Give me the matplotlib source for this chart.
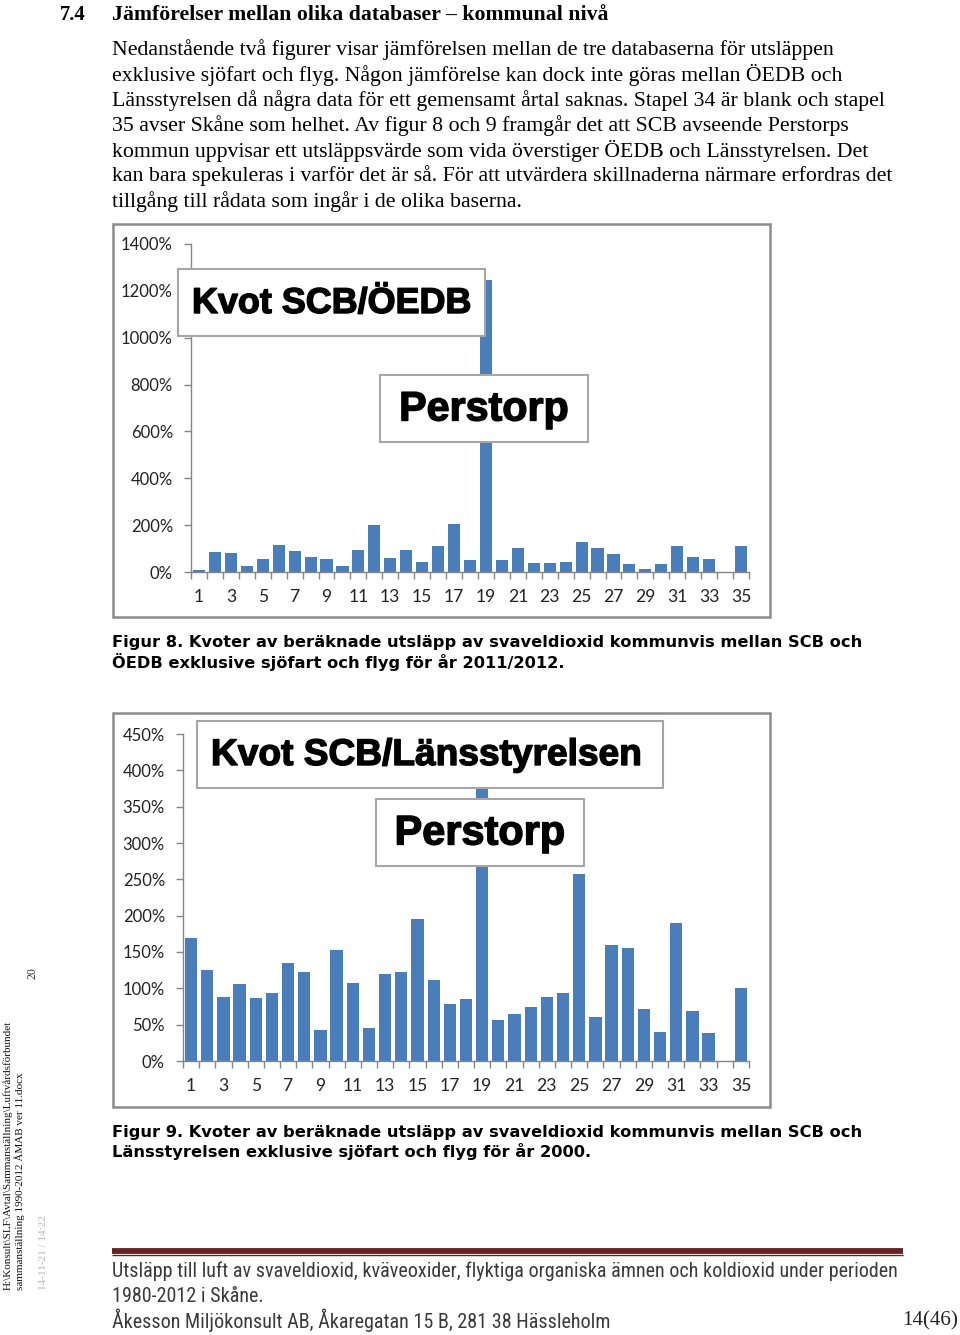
import matplotlib
matplotlib.use("Agg")
import matplotlib.pyplot as plt
from matplotlib.patches import Rectangle
from matplotlib.lines import Line2D
import matplotlib.patheffects as pe
import numpy as np

# ---------------- data ----------------
categories = list(range(1, 36))
tick_labels = [str(c) for c in categories if c % 2 == 1]
kvot_oedb = [7, 86, 79, 24, 57, 114, 91, 64, 57, 27, 94, 199, 60, 96, 41, 113, 207, 53,
             1247, 53, 101, 37, 37, 41, 129, 101, 76, 34, 13, 34, 113, 64, 57, np.nan, 109]
kvot_lst = [169, 125, 88, 106, 87, 94, 135, 122, 43, 153, 107, 46, 120, 122, 196, 111, 78, 85,
            427, 56, 65, 75, 88, 93, 258, 61, 159, 156, 71, 40, 190, 69, 39, np.nan, 101]
oedb_yticks = [0, 200, 400, 600, 800, 1000, 1200, 1400]
lst_yticks = [0, 50, 100, 150, 200, 250, 300, 350, 400, 450]

heading_num = "7.4"
heading = "Jämförelser mellan olika databaser – kommunal nivå"
body = [
    "Nedanstående två figurer visar jämförelsen mellan de tre databaserna för utsläppen",
    "exklusive sjöfart och flyg. Någon jämförelse kan dock inte göras mellan ÖEDB och",
    "Länsstyrelsen då några data för ett gemensamt årtal saknas. Stapel 34 är blank och stapel",
    "35 avser Skåne som helhet. Av figur 8 och 9 framgår det att SCB avseende Perstorps",
    "kommun uppvisar ett utsläppsvärde som vida överstiger ÖEDB och Länsstyrelsen. Det",
    "kan bara spekuleras i varför det är så. För att utvärdera skillnaderna närmare erfordras det",
    "tillgång till rådata som ingår i de olika baserna.",
]
cap1 = ["Figur 8. Kvoter av beräknade utsläpp av svaveldioxid kommunvis mellan SCB och",
        "ÖEDB exklusive sjöfart och flyg för år 2011/2012."]
cap2 = ["Figur 9. Kvoter av beräknade utsläpp av svaveldioxid kommunvis mellan SCB och",
        "Länsstyrelsen exklusive sjöfart och flyg för år 2000."]
title1 = "Kvot SCB/ÖEDB"
title2 = "Kvot SCB/Länsstyrelsen"
label_box = "Perstorp"
footer = ["Utsläpp till luft av svaveldioxid, kväveoxider, flyktiga organiska ämnen och koldioxid under perioden",
          "1980-2012 i Skåne.",
          "Åkesson Miljökonsult AB, Åkaregatan 15 B, 281 38 Hässleholm"]
page_no = "14(46)"
margin_texts = [r"H:\Konsult\SLF\Avtal\Sammanställning\Luftvårdsförbundet",
                "sammanställning 1990-2012 ÅMAB ver 11.docx", "20", "14-11-21 / 14:22"]

# ---------------- figure ----------------
W, H = 960, 1335
fig = plt.figure(figsize=(W / 100, H / 100), dpi=100)
fig.patch.set_facecolor("white")
renderer = fig.canvas.get_renderer()

BAR = "#4A7EBB"
GRAY = "#868686"
SERIF = ["Liberation Serif", "DejaVu Serif"]
NARROW = ["Liberation Sans Narrow", "Roboto Condensed", "DejaVu Sans Condensed", "Roboto"]


def fx(x):
    return x / W


def fy(y):
    return 1 - y / H


def fit(x, y, s, width_px, ha="left", va="center", **kw):
    t = fig.text(fx(x), fy(y), s, fontsize=10, ha=ha, va=va, **kw)
    w = t.get_window_extent(renderer).width
    t.set_fontsize(10 * width_px / w)
    return t


def frame(x0, y0, x1, y1, lw=1.6, color=GRAY, fill=None, z=1):
    r = Rectangle((fx(x0), fy(y1)), fx(x1) - fx(x0), fy(y0) - fy(y1),
                  transform=fig.transFigure, fill=fill is not None,
                  facecolor=fill if fill else "none", edgecolor=color, linewidth=lw, zorder=z)
    fig.patches.append(r)


# heading
fit(60, 15, heading_num, 26, family=SERIF, fontweight="bold")
fit(112, 15, heading, 498, family=SERIF, fontweight="bold")

# body
t = fit(112, 99, body[2], 777, family=SERIF)
fs_body = t.get_fontsize()
t.remove()
for i, line in enumerate(body):
    fig.text(fx(112), fy(50 + 25.2 * i), line, fontsize=fs_body, family=SERIF, ha="left", va="center")

heavy = [pe.withStroke(linewidth=1.0, foreground="black")]


def chart(values, yticks, ymax, frame_box, ax_box, title, tbox, pbox, tfont_w, pfont_w, lab_fs):
    fx0, fy0, fx1, fy1 = frame_box
    frame(fx0, fy0, fx1, fy1, lw=1.8, color="#8c8c8c", z=0.5)
    ax0, ay_top, ax1, ay_bot = ax_box
    ax = fig.add_axes([fx(ax0), fy(ay_bot), fx(ax1) - fx(ax0), fy(ay_top) - fy(ay_bot)])
    ax.bar(categories, values, width=0.76, color=BAR, zorder=2)
    ax.set_xlim(0.5, 35.5)
    ax.set_ylim(0, ymax)
    ax.set_yticks(yticks)
    ax.set_yticklabels([f"{v}%" for v in yticks], family="Lato", fontsize=lab_fs, color="#222222")
    ax.set_xticks([c for c in categories if c % 2 == 1])
    ax.set_xticklabels(tick_labels, family="Lato", fontsize=lab_fs + 0.6, color="#222222")
    ax.set_xticks(np.arange(0.5, 36, 1.0), minor=True)
    ax.tick_params(axis="x", which="major", length=0, pad=12)
    ax.tick_params(axis="x", which="minor", length=5, color=GRAY, width=1)
    ax.tick_params(axis="y", which="major", length=5, color=GRAY, width=1, pad=8)
    for s in ["top", "right"]:
        ax.spines[s].set_visible(False)
    for s in ["left", "bottom"]:
        ax.spines[s].set_color(GRAY)
        ax.spines[s].set_linewidth(1)
    ax.patch.set_alpha(0)
    # title boxes
    bx0, by0, bx1, by1 = tbox
    frame(bx0, by0, bx1, by1, lw=1.5, color="#a6a6a6", fill="white", z=5)
    fit(bx0 + 14, (by0 + by1) / 2 + 1, title, tfont_w, family="Liberation Sans",
        fontweight="bold", zorder=6, path_effects=heavy)
    px0, py0, px1, py1 = pbox
    frame(px0, py0, px1, py1, lw=1.5, color="#a6a6a6", fill="white", z=5)
    fit((px0 + px1) / 2, (py0 + py1) / 2 + 1, label_box, pfont_w, ha="center",
        family="Liberation Sans", fontweight="bold", zorder=6, path_effects=heavy)
    return ax


chart(kvot_oedb, oedb_yticks, 1400, (113, 224, 770, 617), (191, 244, 749, 572),
      title1, (178, 269, 485, 336), (380, 375, 588, 442), 279, 170, 12)
chart(kvot_lst, lst_yticks, 450, (113, 713, 770, 1107), (183, 734, 749, 1061),
      title2, (197, 721, 663, 788), (376, 799, 584, 866), 431, 171, 12)

# captions
ct = fit(112, 642, cap1[0], 750, family="DejaVu Sans", fontweight="bold")
fs_cap = ct.get_fontsize()
fig.text(fx(112), fy(662), cap1[1], fontsize=fs_cap, family="DejaVu Sans", fontweight="bold", va="center")
fig.text(fx(112), fy(1132), cap2[0], fontsize=fs_cap, family="DejaVu Sans", fontweight="bold", va="center")
fig.text(fx(112), fy(1152), cap2[1], fontsize=fs_cap, family="DejaVu Sans", fontweight="bold", va="center")

# footer band
RED = "#632523"
fig.add_artist(Line2D([fx(112), fx(903)], [fy(1250.5), fy(1250.5)], color=RED, linewidth=4.2,
                      solid_capstyle="butt", transform=fig.transFigure))
fig.add_artist(Line2D([fx(112), fx(903)], [fy(1254.5), fy(1254.5)], color=RED, linewidth=1.0,
                      solid_capstyle="butt", transform=fig.transFigure))
ft = fit(112, 1271, footer[0], 786, family=NARROW, color="#3a3a3a")
fs_f = ft.get_fontsize()
fig.text(fx(112), fy(1296), footer[1], fontsize=fs_f, family=NARROW, color="#3a3a3a", va="center")
fig.text(fx(112), fy(1320), footer[2], fontsize=fs_f, family=NARROW, color="#3a3a3a", va="center")
fit(958, 1321, page_no, 56, ha="right", family=SERIF, color="#222222")

# margin texts (rotated)
fig.text(fx(8), fy(1290), margin_texts[0], rotation=90, fontsize=8.0, family=SERIF,
         color="#111111", ha="center", va="bottom")
fig.text(fx(20), fy(1290), margin_texts[1], rotation=90, fontsize=8.0, family=SERIF,
         color="#111111", ha="center", va="bottom")
fig.text(fx(33), fy(973), margin_texts[2], rotation=90, fontsize=8.5, family=SERIF,
         color="#333333", ha="center", va="center")
fig.text(fx(44), fy(1290), margin_texts[3], rotation=90, fontsize=8.0, family=SERIF,
         color="#888888", ha="center", va="bottom", alpha=0.6)

fig.savefig("out.png", dpi=100, facecolor="white")
